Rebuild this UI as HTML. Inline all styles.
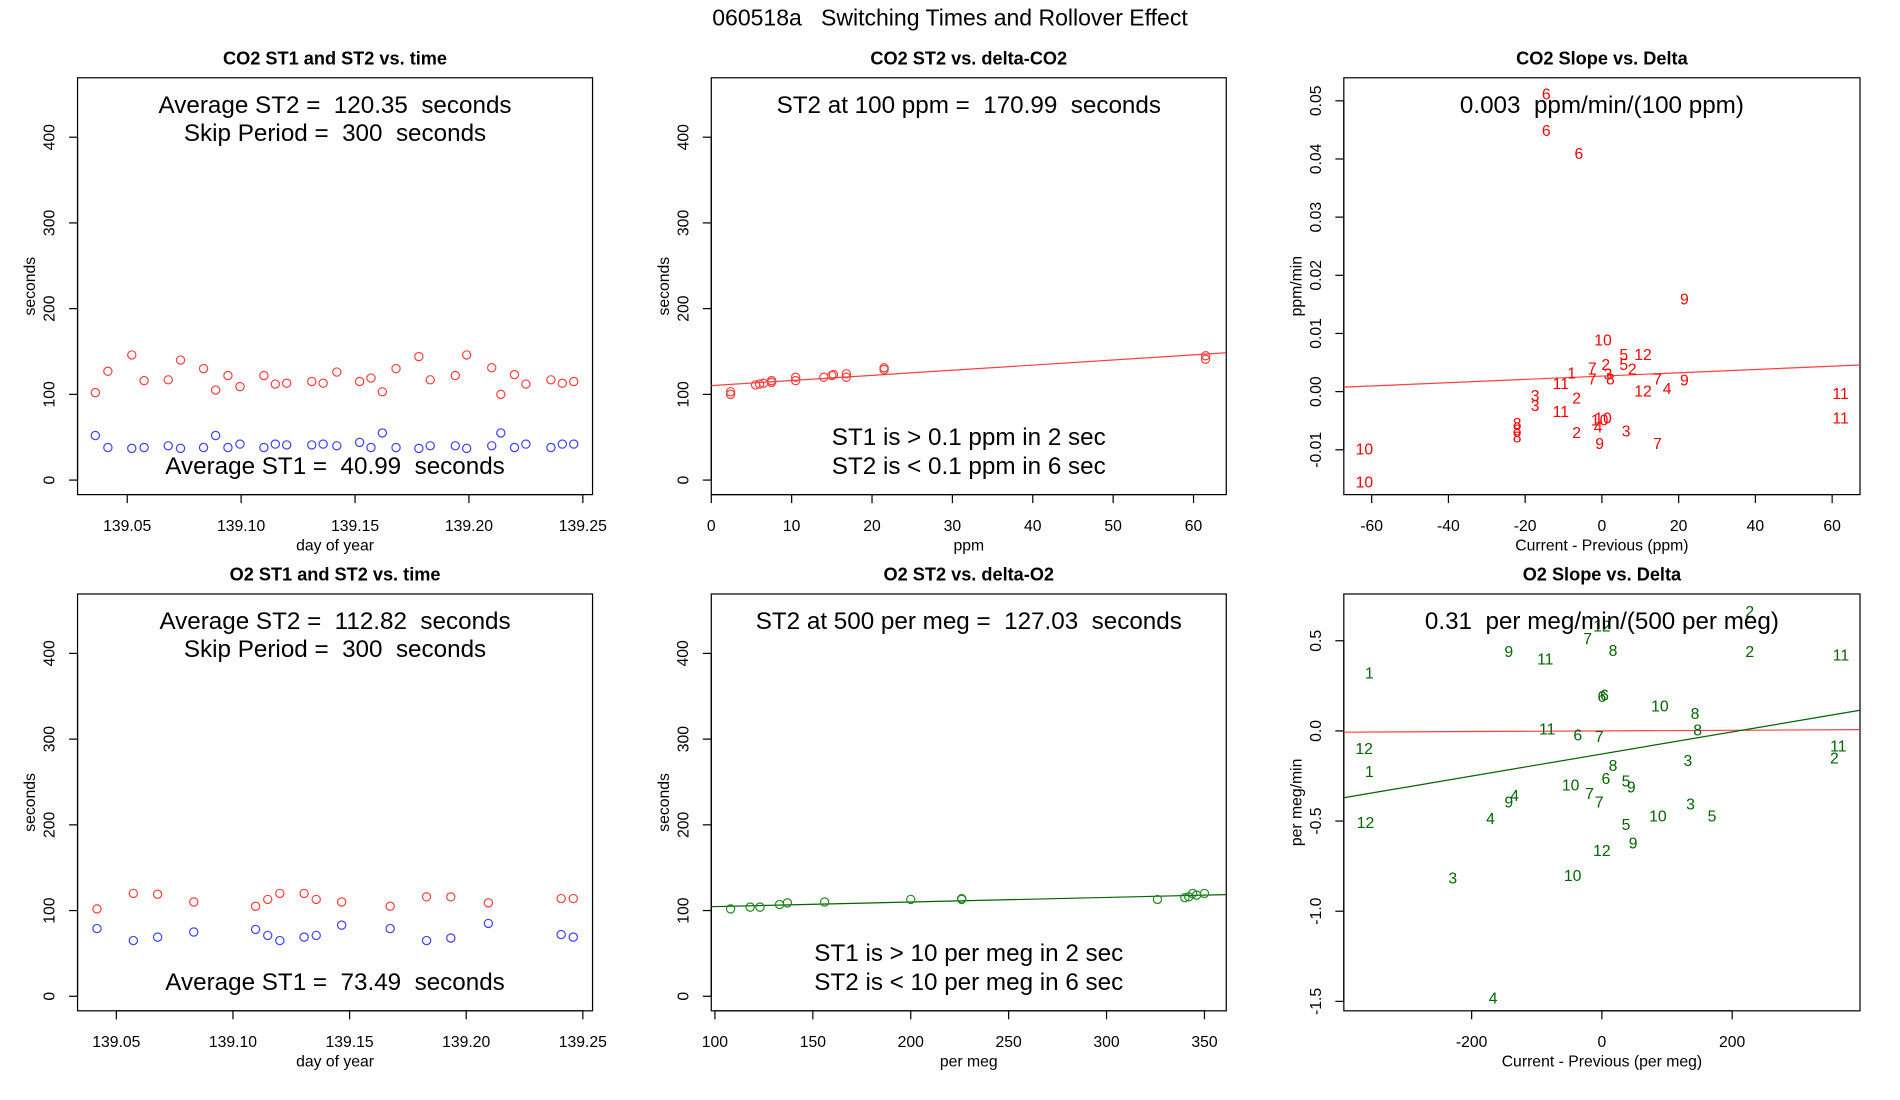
<!DOCTYPE html>
<html><head><meta charset="utf-8"><style>
html,body{margin:0;padding:0;background:#fff;}
svg{display:block;font-family:"Liberation Sans",Arial,sans-serif;}
svg text{white-space:pre;}
</style></head><body>
<svg id="c" width="1900" height="1100" viewBox="0 0 1568 907.4"></svg>
<script>
// ---- data ----
const co2Days=[139.036,139.0415,139.052,139.0574,139.068,139.0734,139.0835,139.0888,139.0942,139.0995,139.110,139.115,139.120,139.131,139.136,139.142,139.152,139.157,139.162,139.168,139.178,139.183,139.194,139.199,139.210,139.214,139.220,139.225,139.236,139.241,139.246];
const co2ST2=[102,127,146,116,117,140,130,105,122,109,122,112,113,115,113,126,115,119,103,130,144,117,122,146,131,100,123,112,117,113,115];
const co2ST1=[52,38,37,38,40,37,38,52,38,42,38,42,41,41,42,40,44,38,55,38,37,40,40,37,40,55,38,42,38,42,42];
const o2Days=[139.0417,139.0573,139.0677,139.0832,139.1097,139.1149,139.1201,139.1305,139.1357,139.1466,139.1674,139.183,139.1934,139.2095,139.2407,139.2459];
const o2ST2=[102,120,119,110,105,113,120,120,113,110,105,116,116,109,114,114];
const o2ST1=[79,65,69,75,78,71,65,69,71,83,79,65,68,85,72,69];
const co2Delta=[2.4,2.4,5.5,6,6.5,7.5,7.5,10.5,10.5,14,15,15.2,16.8,16.8,21.5,21.5,61.5,61.5];
const co2DeltaST2=[100,103,111,112,113,114,116,116,120,120,122,123,120,124,129,131,141,145];
const co2Fit=[110.2,0.598];
const o2Delta=[108,118,123,133,137,156,200,226,226,326,340,342,344,346,350];
const o2DeltaST2=[102,104,104,107,109,110,113,113,114,113,115,116,120,118,120];
const o2Fit=[104.6,0.0536];
const co2SlopeLabels=["6","6","6","9","10","5","12","7","2","5","2","1","11","7","3","8","7","9","12","4","3","3","2","11","10","10","4","8","8","8","2","3","9","7","10","10","11","11"];
const co2SlopeX=[-14.5,-14.5,-6,21.5,0.3,5.7,10.7,-2.5,1,5.7,7.9,-7.9,-10.7,-2.5,1.6,2.2,14.5,21.5,10.7,17,-17.4,-17.4,-6.6,-10.7,0.3,-0.6,-1,-22.1,-22.1,-22.1,-6.6,6.3,-0.6,14.5,-61.9,-61.9,62.2,62.2];
const co2SlopeY=[0.0513,0.045,0.041,0.016,0.009,0.0065,0.0065,0.0042,0.0048,0.0048,0.004,0.0033,0.0015,0.0023,0.0031,0.0023,0.0023,0.0021,0.0002,0.0006,-0.0006,-0.0023,-0.001,-0.0033,-0.0044,-0.0048,-0.006,-0.0054,-0.0065,-0.0077,-0.0069,-0.0067,-0.0088,-0.0088,-0.0098,-0.0154,-0.0002,-0.0044];
const co2SlopeFit=[0.00267,0.0000283];
const o2SlopeLabels=["2","12","7","8","2","9","11","11","1","6","6","10","8","11","6","7","8","12","11","2","3","8","1","6","5","9","10","7","4","9","7","3","10","5","4","5","12","9","12","10","3","4"];
const o2SlopeX=[227,0,-22,17,227,-143,-87,367,-357,4,0,89,143,-84,-37,-4,147,-365,363,357,132,17,-357,6,37,45,-48,-19,-134,-143,-4,136,86,169,-171,37,-363,48,0,-45,-229,-167];
const o2SlopeY=[0.665,0.585,0.517,0.45,0.444,0.444,0.403,0.423,0.323,0.202,0.195,0.141,0.101,0.013,-0.02,-0.027,0.007,-0.094,-0.081,-0.148,-0.161,-0.188,-0.222,-0.262,-0.276,-0.309,-0.296,-0.343,-0.356,-0.39,-0.39,-0.403,-0.47,-0.47,-0.484,-0.517,-0.504,-0.618,-0.659,-0.8,-0.813,-1.478];
const o2SlopeFitGreen=[-0.128,0.000612];
const o2SlopeFitRed=[0,0.0000177];

const NS="http://www.w3.org/2000/svg";
const svg=document.getElementById('c');
function mk(tag,attrs,parent,txt){const e=document.createElementNS(NS,tag);for(const k in attrs)e.setAttribute(k,attrs[k]);if(txt!==undefined)e.textContent=txt;(parent||svg).appendChild(e);return e;}

let t=mk('text',{x:784,y:21,'text-anchor':'middle','font-size':19});
t.textContent="060518a   Switching Times and Rollover Effect";



function panel(o){
  const g=mk('g',{});
  
  
  const L=o.box[0],T=o.box[1],R=o.box[2],B=o.box[3];
  const sx=v=>L+(v-o.xr[0])/(o.xr[1]-o.xr[0])*(R-L);
  const sy=v=>B-(v-o.yr[0])/(o.yr[1]-o.yr[0])*(B-T);
  const tt=mk('text',{x:(L+R)/2,y:T-11,'text-anchor':'middle','font-size':15,'font-weight':'bold'},g,o.title);
  
  
  const fr=mk('rect',{x:L,y:T,width:R-L,height:B-T,fill:'none',stroke:'#000','stroke-width':1},g);
  
  
  const xa=mk('g',{},g);
  
  
  const xt=o.xt;
  mk('line',{x1:sx(xt[0]),x2:sx(xt[xt.length-1]),y1:B,y2:B,stroke:'#000'},xa);
  xt.forEach((v,i)=>{const x=sx(v);mk('line',{x1:x,x2:x,y1:B,y2:B+7,stroke:'#000'},xa);
    mk('text',{x:x,y:B+30,'text-anchor':'middle','font-size':13},xa,o.xl[i]);});
  const xl=mk('text',{x:(L+R)/2,y:B+46,'text-anchor':'middle','font-size':13},g,o.xlab);
  
  
  const ya=mk('g',{},g);
  
  
  const yt=o.yt;
  mk('line',{x1:L,x2:L,y1:sy(yt[0]),y2:sy(yt[yt.length-1]),stroke:'#000'},ya);
  yt.forEach((v,i)=>{const y=sy(v);mk('line',{x1:L-7,x2:L,y1:y,y2:y,stroke:'#000'},ya);
    mk('text',{x:L-19,y:y,'text-anchor':'middle','font-size':13,transform:`rotate(-90 ${L-19} ${y})`},ya,o.yl[i]);});
  const yl=mk('text',{x:L-35,y:(T+B)/2,'text-anchor':'middle','font-size':13,transform:`rotate(-90 ${L-35} ${(T+B)/2})`},g,o.ylab);
  
  
  const clip='cl'+o.name;
  const cp=mk('clipPath',{id:clip},g);mk('rect',{x:L,y:T,width:R-L,height:B-T},cp);
  const d=mk('g',{'clip-path':`url(#${clip})`},g);
  (o.lines||[]).forEach(f=>{const l=mk('line',{x1:sx(o.xr[0]),y1:sy(f[0]+f[1]*o.xr[0]),x2:sx(o.xr[1]),y2:sy(f[0]+f[1]*o.xr[1]),stroke:f[2],'stroke-width':1},d);
    
    });
  (o.pts||[]).forEach(s=>{s[0].forEach((xv,i)=>{const c=mk('circle',{cx:sx(xv),cy:sy(s[1][i]),r:3.4,fill:'none',stroke:s[2],'stroke-width':1},d);
    
    });});
  (o.labs||[]).forEach(s=>{s[0].forEach((xv,i)=>{const tx=mk('text',{x:sx(xv),y:sy(s[1][i])+5,'text-anchor':'middle','font-size':13,fill:s[3]},d,s[2][i]);
    
    });});
  (o.notes||[]).forEach(n=>{const tx=mk('text',{x:(L+R)/2,y:n[1],'text-anchor':'middle','font-size':20},g,n[0]);
    
    });
}
const secT=[0,100,200,300,400],secL=["0","100","200","300","400"];
const dayT=[139.05,139.10,139.15,139.20,139.25],dayL=["139.05","139.10","139.15","139.20","139.25"];
panel({name:'co2-time-panel',title:'CO2 ST1 and ST2 vs. time',box:[64,64,489,408],xr:[139.05-41/94*0.05,139.05+384/94*0.05],yr:[-16.96,469.3],
 xt:dayT,xl:dayL,yt:secT,yl:secL,xlab:'day of year',ylab:'seconds',
 pts:[[co2Days,co2ST2,'#ff4040'],[co2Days,co2ST1,'#4040ff']],
 notes:[['Average ST2 =  120.35  seconds',93],['Skip Period =  300  seconds',116],['Average ST1 =  40.99  seconds',391]]});
panel({name:'o2-time-panel',title:'O2 ST1 and ST2 vs. time',box:[64,490,489,834],xr:[139.05-32/96.25*0.05,139.05+393/96.25*0.05],yr:[-16.96,469.3],
 xt:dayT,xl:dayL,yt:secT,yl:secL,xlab:'day of year',ylab:'seconds',
 pts:[[o2Days,o2ST2,'#ff4040'],[o2Days,o2ST1,'#4040ff']],
 notes:[['Average ST2 =  112.82  seconds',519],['Skip Period =  300  seconds',542],['Average ST1 =  73.49  seconds',817]]});
panel({name:'co2-delta-panel',title:'CO2 ST2 vs. delta-CO2',box:[587,64,1012,408],xr:[0,425/6.633],yr:[-16.96,469.3],
 xt:[0,10,20,30,40,50,60],xl:["0","10","20","30","40","50","60"],yt:secT,yl:secL,xlab:'ppm',ylab:'seconds',
 lines:[[co2Fit[0],co2Fit[1],'#ff4040']],pts:[[co2Delta,co2DeltaST2,'#ff4040']],
 notes:[['ST2 at 100 ppm =  170.99  seconds',93],['ST1 is > 0.1 ppm in 2 sec',367],['ST2 is < 0.1 ppm in 6 sec',391]]});
panel({name:'o2-delta-panel',title:'O2 ST2 vs. delta-O2',box:[587,490,1012,834],xr:[100-3/1.616,100+422/1.616],yr:[-16.96,469.3],
 xt:[100,150,200,250,300,350],xl:["100","150","200","250","300","350"],yt:secT,yl:secL,xlab:'per meg',ylab:'seconds',
 lines:[[o2Fit[0]-o2Fit[1]*100,o2Fit[1],'#006400']],pts:[[o2Delta,o2DeltaST2,'#228b22']],
 notes:[['ST2 at 500 per meg =  127.03  seconds',519],['ST1 is > 10 per meg in 2 sec',793],['ST2 is < 10 per meg in 6 sec',817]]});
panel({name:'co2-slope-panel',title:'CO2 Slope vs. Delta',box:[1109,64,1535,408],xr:[-67.26,67.26],yr:[-(408-323)/4800,(323-64)/4800],
 xt:[-60,-40,-20,0,20,40,60],xl:["-60","-40","-20","0","20","40","60"],yt:[-0.01,0,0.01,0.02,0.03,0.04,0.05],yl:["-0.01","0.00","0.01","0.02","0.03","0.04","0.05"],
 xlab:'Current - Previous (ppm)',ylab:'ppm/min',
 lines:[[co2SlopeFit[0],co2SlopeFit[1],'#ff4040']],labs:[[co2SlopeX,co2SlopeY,co2SlopeLabels,'#ff0000']],
 notes:[['0.003  ppm/min/(100 ppm)',93]]});
panel({name:'o2-slope-panel',title:'O2 Slope vs. Delta',box:[1109,490,1535,834],xr:[-396.3,396.3],yr:[-(834-603)/148.8,(603-490)/148.8],
 xt:[-200,0,200],xl:["-200","0","200"],yt:[-1.5,-1,-0.5,0,0.5],yl:["-1.5","-1.0","-0.5","0.0","0.5"],
 xlab:'Current - Previous (per meg)',ylab:'per meg/min',
 lines:[[o2SlopeFitRed[0],o2SlopeFitRed[1],'#ff4040'],[o2SlopeFitGreen[0],o2SlopeFitGreen[1],'#006400']],labs:[[o2SlopeX,o2SlopeY,o2SlopeLabels,'#006400']],
 notes:[['0.31  per meg/min/(500 per meg)',519]]});
</script>
</body></html>
